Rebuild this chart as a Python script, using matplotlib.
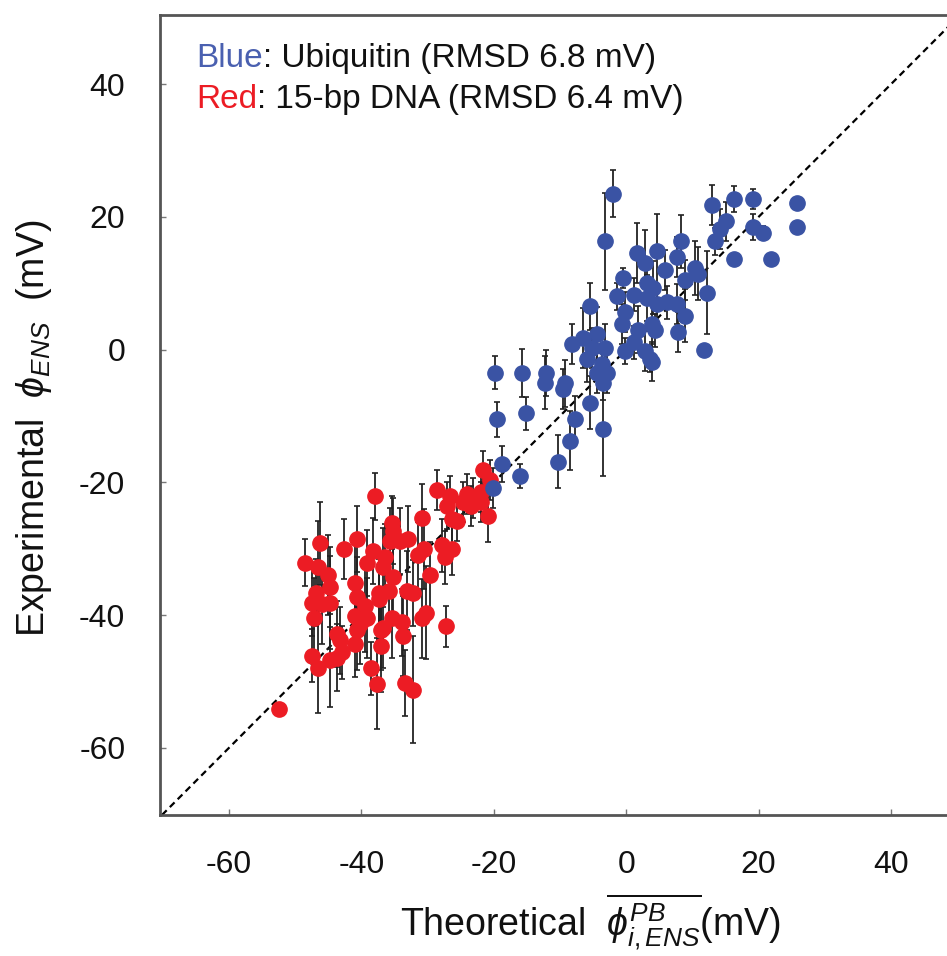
import numpy as np
import matplotlib
matplotlib.use("Agg")
import matplotlib.pyplot as plt

plt.rcParams['font.family'] = ['Liberation Sans', 'DejaVu Sans']
plt.rcParams['mathtext.fontset'] = 'custom'
plt.rcParams['mathtext.rm'] = 'Liberation Sans'
plt.rcParams['mathtext.it'] = 'Liberation Sans:italic'
plt.rcParams['axes.unicode_minus'] = False

# ubiquitin (blue)
blue_x = [-2.0, -3.2, 13.0, 16.3, 19.2, 25.8, 25.8, 15.1, 14.2, 13.4,
          19.2, 20.7, 16.2, 21.9, 8.3, 7.7, 4.7, 1.7, 2.9, 5.9,
          10.4, 10.9, 8.8, 12.2, -0.5, -1.4, 1.1, 3.2, 4.1, 3.2,
          4.7, 6.2, 7.7, 8.9, 7.8, 11.8, -5.4, -0.2, -0.6, 1.8,
          3.9, 4.4, 2.9, -0.2, 3.9, 1.1, -4.4, -6.6, -5.1, -3.2,
          -5.9, -3.6, -4.4, -2.9, -19.8, -15.7, -12.1, -12.2, -9.2, -9.5,
          -19.5, -15.2, -5.4, -7.7, -8.5, -3.5, -10.3, -18.7, -16.0, -20.1,
          -3.5, 3.6, -8.2]
blue_y = [23.5, 16.3, 21.8, 22.7, 22.7, 22.1, 18.5, 19.3, 18.2, 16.3,
          18.5, 17.6, 13.7, 13.7, 16.3, 14.0, 14.9, 14.5, 13.0, 12.0,
          12.3, 11.4, 10.5, 8.6, 10.8, 8.0, 8.3, 10.1, 9.3, 7.8,
          6.9, 7.1, 6.9, 5.1, 2.6, 0.0, 6.5, 5.7, 3.9, 3.0,
          3.9, 2.9, -0.2, -0.2, -1.8, 1.1, 2.4, 1.8, 0.2, 0.3,
          -1.4, -2.1, -3.5, -3.5, -3.5, -3.5, -3.5, -5.0, -5.1, -5.9,
          -10.5, -9.6, -8.0, -10.5, -13.7, -12.0, -16.9, -17.2, -19.0, -20.8,
          -5.1, -1.4, 0.9]
blue_err = [3.5, 7.3, 3.0, 2.0, 1.5, 0.5, 0.5, 3.0, 3.0, 2.0,
            2.0, 1.0, 0.5, 0.5, 4.0, 3.0, 5.5, 4.5, 5.0, 3.0,
            4.0, 4.0, 3.0, 6.2, 1.5, 2.0, 2.5, 3.0, 4.0, 3.5,
            3.0, 2.5, 3.0, 4.0, 3.0, 0.5, 3.5, 3.0, 3.0, 3.5,
            3.0, 2.5, 3.0, 2.0, 3.0, 2.5, 4.0, 4.5, 3.0, 3.5,
            3.5, 3.0, 3.0, 3.0, 2.5, 3.6, 3.5, 4.0, 3.5, 3.0,
            2.6, 2.5, 4.0, 3.5, 4.5, 7.0, 4.0, 2.7, 1.8, 3.0,
            2.5, 2.0, 3.0]

# 15-bp DNA (red)
red_x = [-52.4, -38.0, -48.5, -46.2, -42.6, -40.6, -46.5, -45.0, -44.7, -46.9,
         -47.4, -45.9, -44.7, -47.2, -47.4, -46.5, -44.7, -43.6, -42.9, -43.6,
         -40.9, -40.6, -40.9, -40.6, -40.9, -39.4, -39.1, -38.6, -37.6, -37.1,
         -37.1, -38.3, -39.1, -36.4, -36.7, -35.2, -37.4, -35.8, -35.3, -35.6,
         -34.1, -32.9, -33.1, -32.2, -35.3, -33.8, -33.7, -33.4, -32.2, -30.8,
         -31.5, -30.6, -29.6, -30.8, -30.3, -27.2, -28.5, -26.6, -27.0, -26.3,
         -25.5, -27.8, -26.3, -27.3, -24.0, -23.1, -22.0, -21.6, -20.5, -20.8,
         -22.0, -24.6, -23.5, -35.2, -43.2, -40.2, -37.4, -36.7]
red_y = [-54.2, -22.1, -32.1, -29.2, -30.0, -28.5, -32.8, -34.0, -35.8, -36.6,
         -38.1, -38.3, -38.1, -40.4, -46.1, -47.9, -46.8, -42.8, -45.6, -46.4,
         -35.1, -37.3, -40.1, -42.3, -44.3, -38.6, -40.4, -48.0, -50.3, -42.3,
         -44.6, -30.3, -32.1, -31.3, -32.8, -34.3, -36.7, -36.3, -26.1, -28.8,
         -28.8, -28.5, -36.3, -36.7, -40.4, -41.1, -43.1, -50.2, -51.2, -25.3,
         -31.0, -30.0, -34.0, -40.5, -39.6, -41.7, -21.1, -22.0, -23.5, -25.5,
         -25.8, -29.5, -30.0, -31.3, -21.7, -22.4, -21.5, -18.2, -19.7, -25.0,
         -23.0, -23.0, -23.5, -27.3, -43.8, -41.3, -37.5, -41.9]
red_err = [1.0, 3.5, 3.5, 6.2, 4.5, 5.0, 7.0, 6.0, 6.0, 5.0,
           5.0, 6.0, 7.0, 6.0, 4.0, 6.8, 7.0, 5.0, 4.0, 5.0,
           6.0, 6.0, 5.0, 6.0, 5.0, 7.0, 6.0, 4.0, 6.8, 6.0,
           7.0, 5.0, 5.0, 5.0, 6.0, 6.0, 6.0, 5.0, 4.0, 5.0,
           5.0, 5.0, 6.0, 5.0, 6.0, 5.0, 6.0, 5.0, 8.0, 5.0,
           5.0, 6.0, 5.0, 6.0, 7.0, 3.1, 3.0, 3.0, 3.5, 4.0,
           3.0, 4.0, 4.0, 4.0, 3.0, 3.0, 3.0, 3.0, 3.0, 4.0,
           3.0, 3.0, 3.0, 5.0, 5.0, 6.0, 6.0, 6.0]

blue_c = '#3a53a4'
red_c = '#ec1c24'

fig = plt.figure(figsize=(9.47, 9.56), dpi=100)
W, H = 947, 956
ax = fig.add_axes([160 / W, 141 / H, 800 / W, 800 / H])
ax.set_xlim(-70.4, 50.4)
ax.set_ylim(-70.1, 50.4)

ax.axline((0, 0), slope=1, color='k', ls=(0, (3, 2)), lw=1.6, zorder=1)

for xs, ys, es, c in [(red_x, red_y, red_err, red_c), (blue_x, blue_y, blue_err, blue_c)]:
    ax.errorbar(xs, ys, yerr=es, fmt='none', ecolor='#222222', elinewidth=1.3,
                capsize=2.5, capthick=1.2, zorder=2)
    ax.plot(xs, ys, 'o', color=c, ms=11, mec=c, zorder=3)

ax.set_xticks([-60, -40, -20, 0, 20, 40])
ax.set_yticks([-60, -40, -20, 0, 20, 40])
ax.tick_params(direction='in', length=4, width=1, colors='#777777', labelcolor='#111111',
               labelsize=23, pad=25)
for s in ['left', 'bottom', 'top']:
    ax.spines[s].set_color('#555555')
    ax.spines[s].set_linewidth(2)
ax.spines['right'].set_visible(False)

t1 = ax.text(0.045, 0.935, 'Blue', color='#4a60b0', fontsize=24, transform=ax.transAxes,
             va='baseline')
ax.annotate(': Ubiquitin (RMSD 6.8 mV)', xy=(1, 0), xycoords=t1, va='bottom',
            fontsize=24, color='#111111')
t2 = ax.text(0.045, 0.884, 'Red', color=red_c, fontsize=24, transform=ax.transAxes,
             va='baseline')
ax.annotate(': 15-bp DNA (RMSD 6.4 mV)', xy=(1, 0), xycoords=t2, va='bottom',
            fontsize=24, color='#111111')

fig.text(34 / W, 1 - 428 / H, r'Experimental  $\phi_{ENS}$  (mV)', rotation=90,
         ha='center', va='center', fontsize=27, color='#111111')
fig.text(590 / W, 19 / H, r'Theoretical  $\overline{\phi^{PB}_{i,ENS}}$(mV)',
         ha='center', va='baseline', fontsize=27, color='#111111')

fig.savefig('out.png', dpi=100)
